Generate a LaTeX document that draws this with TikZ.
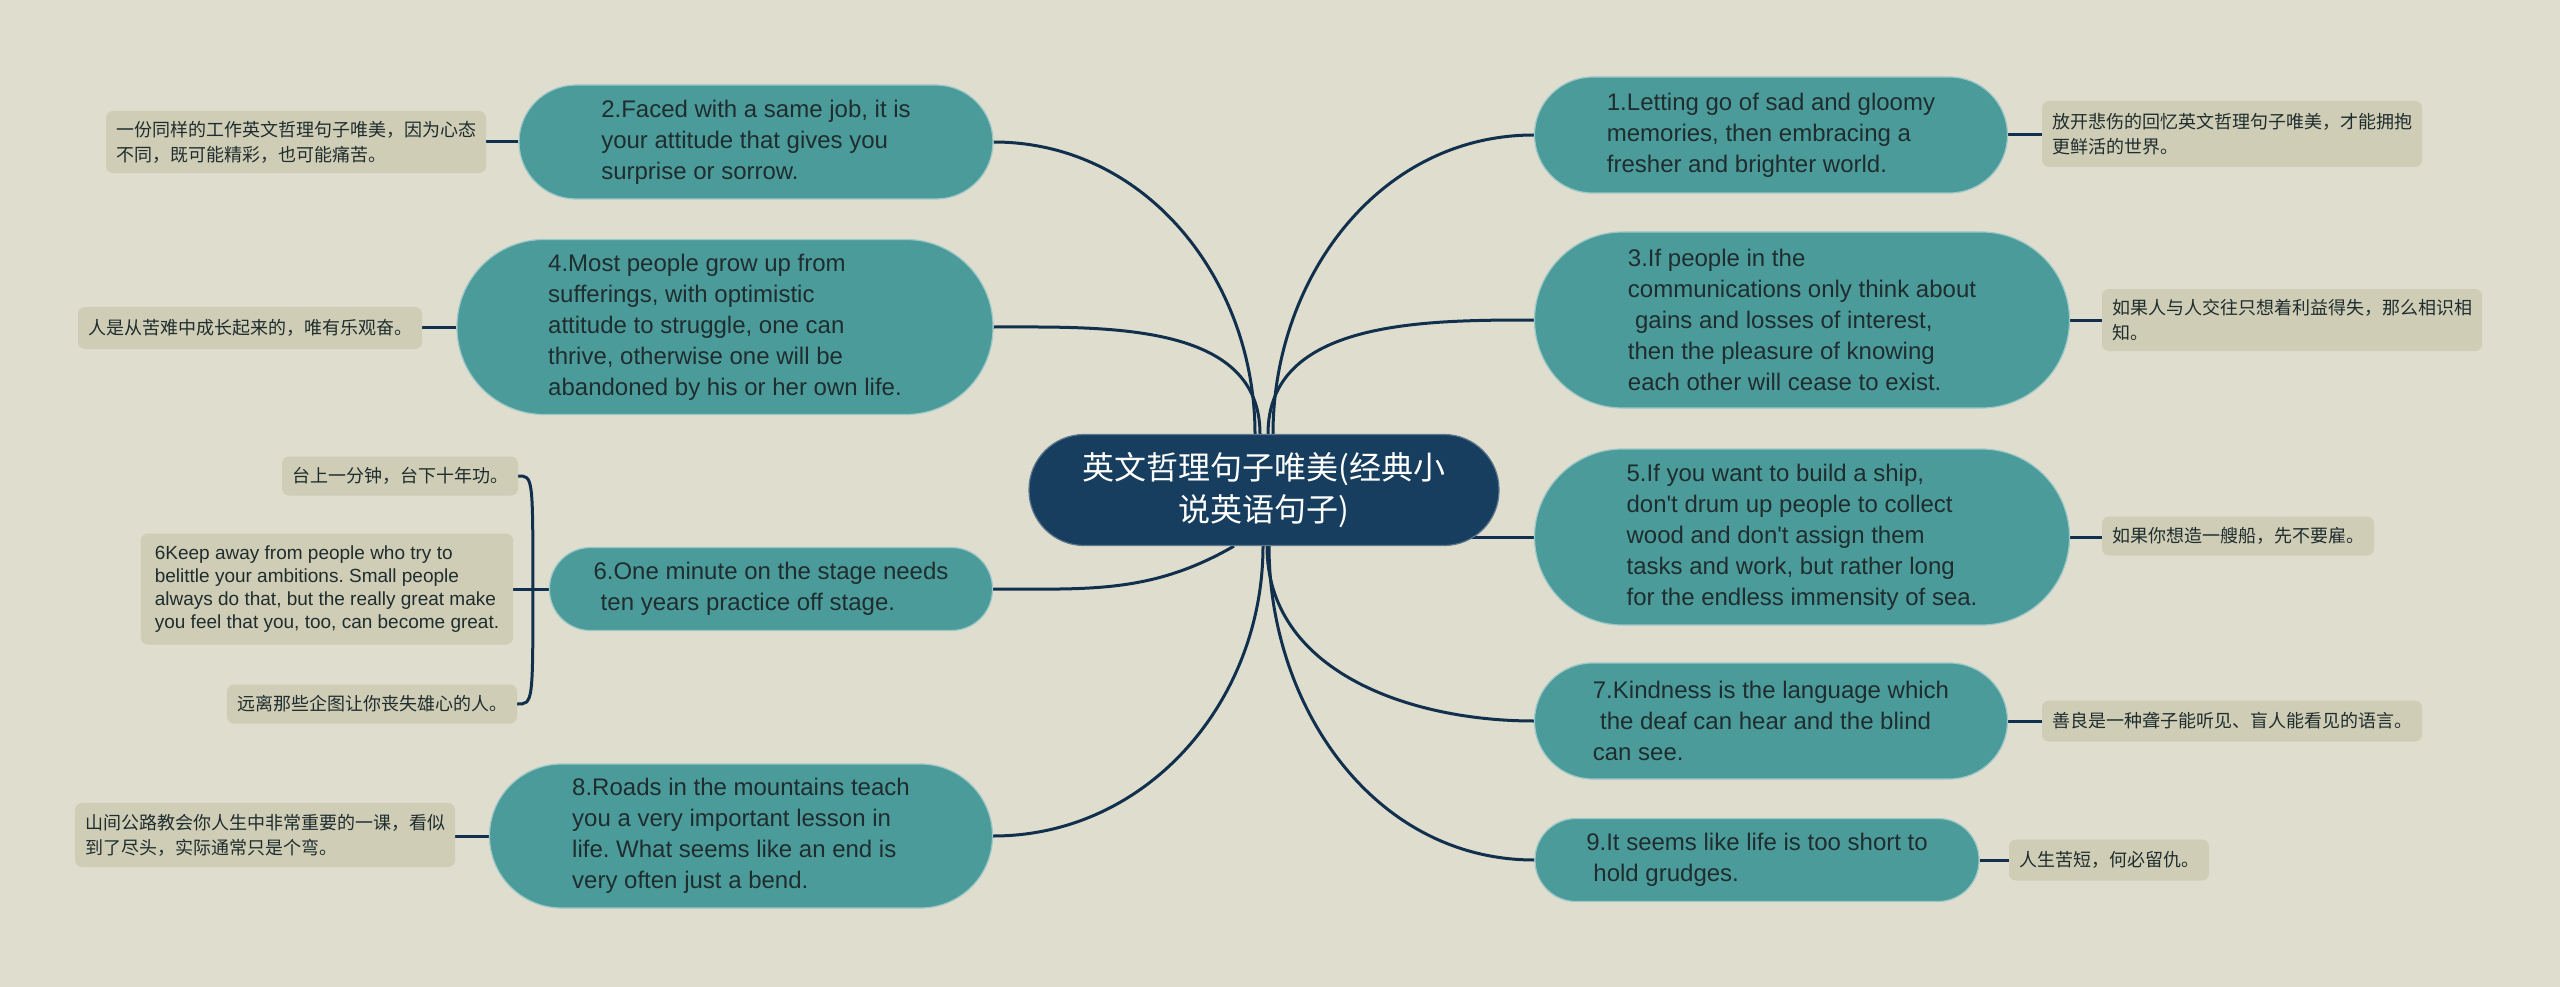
\documentclass[tikz,border=0pt]{standalone}
\usepackage{fontspec}
\setmainfont{Liberation Sans}
\newfontfamily\cjk{Noto Sans CJK SC}
\usepackage{tikz}
\usetikzlibrary{backgrounds}
\usepackage{xcolor}
\frenchspacing
\definecolor{mmback}{HTML}{DFDDCD}
\definecolor{mmteal}{HTML}{4C9B9B}
\definecolor{mmnavy}{HTML}{173E5E}
\definecolor{mmnote}{HTML}{CFCDB6}
\definecolor{mmline}{HTML}{10304D}
\definecolor{mmtext}{HTML}{1F2D2E}
\tikzstyle{root} = [rectangle, rounded corners=55pt, minimum width=470pt, minimum height=111pt, fill=mmnavy, draw=mmnavy!70!white, line width=1.2pt, text=white, align=center, font=\cjk\fontsize{32}{42}\selectfont]
\tikzstyle{idea} = [rectangle, fill=mmteal, draw=mmteal!55!white, line width=1.2pt, text=mmtext, align=left, font=\fontsize{24}{31}\selectfont]
\tikzstyle{note} = [rectangle, rounded corners=7pt, fill=mmnote, text=mmtext, align=left, inner xsep=10pt, minimum height=39pt, font=\cjk\fontsize{18}{25}\selectfont]
\tikzstyle{link} = [line width=3pt, color=mmline]

\begin{document}
\begin{tikzpicture}[x=1pt, y=1pt]
\useasboundingbox (0,0) rectangle (2560,-987);

% centre
\node[root] (root) at (1264,-490) {英文哲理句子唯美(经典小\\说英语句子)};

% right branches
\node[idea, minimum width=473pt, minimum height=116pt, rounded corners=58pt] (n1) at (1771,-135) {1.Letting go of sad and gloomy\\memories, then embracing a\\fresher and brighter world.};
\node[idea, minimum width=535pt, minimum height=176pt, rounded corners=88pt] (n3) at (1802,-320) {3.If people in the\\communications only think about\\\hspace*{0.3em}gains and losses of interest,\\then the pleasure of knowing\\each other will cease to exist.};
\node[idea, minimum width=535pt, minimum height=176pt, rounded corners=88pt] (n5) at (1802,-537) {5.If you want to build a ship,\\don\textquotesingle t drum up people to collect\\wood and don\textquotesingle t assign them\\tasks and work, but rather long\\for the endless immensity of sea.};
\node[idea, minimum width=473pt, minimum height=116pt, rounded corners=58pt] (n7) at (1771,-721) {7.Kindness is the language which\\\hspace*{0.3em}the deaf can hear and the blind\\can see.};
\node[idea, minimum width=444pt, minimum height=83pt, rounded corners=41pt] (n9) at (1757,-860) {9.It seems like life is too short to\\\hspace*{0.3em}hold grudges.};

% left branches
\node[idea, minimum width=474pt, minimum height=114pt, rounded corners=57pt] (n2) at (756,-142) {2.Faced with a same job, it is\\your attitude that gives you\\surprise or sorrow.};
\node[idea, minimum width=536pt, minimum height=175pt, rounded corners=87pt] (n4) at (725,-327) {4.Most people grow up from\\sufferings, with optimistic\\attitude to struggle, one can\\thrive, otherwise one will be\\abandoned by his or her own life.};
\node[idea, minimum width=443pt, minimum height=83pt, rounded corners=41pt] (n6) at (771,-589) {6.One minute on the stage needs\\\hspace*{0.3em}ten years practice off stage.};
\node[idea, minimum width=503pt, minimum height=144pt, rounded corners=72pt] (n8) at (741,-836) {8.Roads in the mountains teach\\you a very important lesson in\\life. What seems like an end is\\very often just a bend.};

% notes
\node[note, minimum height=66pt] (r1) at (2232,-134) {放开悲伤的回忆英文哲理句子唯美，才能拥抱\\更鲜活的世界。};
\node[note, minimum height=62pt] (r3) at (2292,-320) {如果人与人交往只想着利益得失，那么相识相\\知。};
\node[note] (r5) at (2238,-536) {如果你想造一艘船，先不要雇。};
\node[note, minimum height=41pt] (r7) at (2232,-721) {善良是一种聋子能听见、盲人能看见的语言。};
\node[note, minimum height=41pt] (r9) at (2109,-860) {人生苦短，何必留仇。};
\node[note, minimum height=62pt] (l2) at (296,-142) {一份同样的工作英文哲理句子唯美，因为心态\\不同，既可能精彩，也可能痛苦。};
\node[note, minimum height=42pt] (l4) at (250,-328) {人是从苦难中成长起来的，唯有乐观奋。};
\node[note] (l6a) at (400,-476) {台上一分钟，台下十年功。};
\node[note, minimum height=111pt, inner xsep=14pt, font=\fontsize{19}{23}\selectfont] (l6b) at (327,-589) {6Keep away from people who try to\\belittle your ambitions. Small people\\always do that, but the really great make\\you feel that you, too, can become great.};
\node[note] (l6c) at (372,-704) {远离那些企图让你丧失雄心的人。};
\node[note, minimum height=64pt] (l8) at (265,-835) {山间公路教会你人生中非常重要的一课，看似\\到了尽头，实际通常只是个弯。};

\begin{scope}[on background layer]
\fill[mmback] (0,0) rectangle (2560,-987);
% centre to branches
\draw[link] ([xshift=9pt]root.north) to[out=90,in=180] (n1.west);
\draw[link] ([xshift=4pt]root.north) to[out=90,in=180] (n3.west);
\draw[link] (root.center |- n5.west) -- (n5.west);
\draw[link] ([xshift=3pt]root.south) to[out=-90,in=180] (n7.west);
\draw[link] ([xshift=5pt]root.south) to[out=-90,in=180] (n9.west);
\draw[link] ([xshift=-9pt]root.north) to[out=90,in=0] (n2.east);
\draw[link] ([xshift=-4pt]root.north) to[out=90,in=0] (n4.east);
\draw[link] ([xshift=-30pt]root.south) to[out=210,in=0] (n6.east);
\draw[link] ([xshift=-1pt]root.south) to[out=-90,in=0] (n8.east);
% branches to notes
\draw[link] (n1.east) -- (n1.east -| r1.west);
\draw[link] (n3.east) -- (n3.east -| r3.west);
\draw[link] (n5.east) -- (n5.east -| r5.west);
\draw[link] (n7.east) -- (n7.east -| r7.west);
\draw[link] (n9.east) -- (n9.east -| r9.west);
\draw[link] (n2.west) -- (n2.west -| l2.east);
\draw[link] (n4.west) -- (n4.west -| l4.east);
\draw[link] (n8.west) -- (n8.west -| l8.east);
\draw[link] (n6.west) -- (n6.west -| l6b.east);
\coordinate (fork) at ([xshift=-16pt]n6.west);
\draw[link] (fork) .. controls (fork |- l6a.east) .. (l6a.east);
\draw[link] (fork) .. controls (fork |- l6c.east) .. (l6c.east);
\end{scope}
\end{tikzpicture}
\end{document}
